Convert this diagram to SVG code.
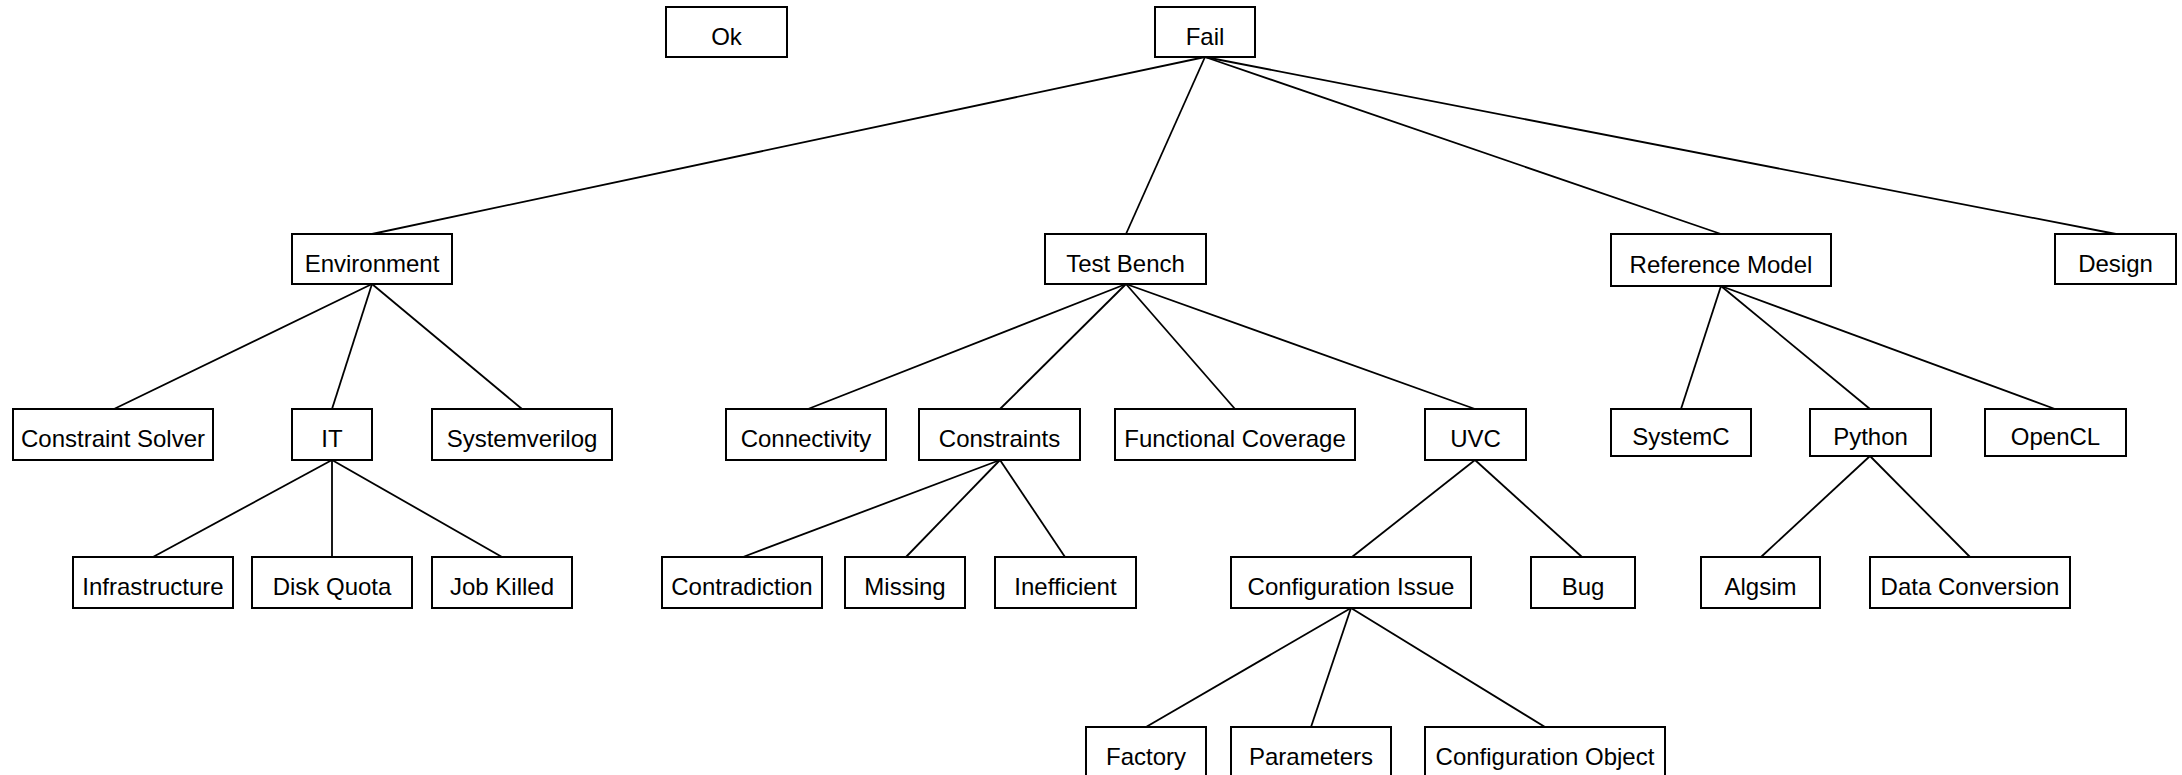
<svg xmlns="http://www.w3.org/2000/svg" width="2182" height="775" viewBox="0 0 2182 775">
<style>
rect{fill:#fff;stroke:#000;stroke-width:2}
text{font-family:"Liberation Sans",Arial,sans-serif;font-size:24px;fill:#000;text-anchor:middle}
#connectors line{stroke:#000;stroke-width:1.8}
</style>
<rect x="0" y="0" width="2182" height="775" style="stroke:none"/>
<g id="connectors">
<line x1="1205" y1="57" x2="372" y2="234"/>
<line x1="1205" y1="57" x2="1126" y2="234"/>
<line x1="1205" y1="57" x2="1721" y2="234"/>
<line x1="1205" y1="57" x2="2116" y2="234"/>
<line x1="372" y1="284" x2="114" y2="409"/>
<line x1="372" y1="284" x2="332" y2="409"/>
<line x1="372" y1="284" x2="522" y2="409"/>
<line x1="332" y1="460" x2="153" y2="557"/>
<line x1="332" y1="460" x2="332" y2="557"/>
<line x1="332" y1="460" x2="502" y2="557"/>
<line x1="1126" y1="284" x2="808" y2="409"/>
<line x1="1126" y1="284" x2="1000" y2="409"/>
<line x1="1126" y1="284" x2="1235" y2="409"/>
<line x1="1126" y1="284" x2="1475" y2="409"/>
<line x1="1000" y1="460" x2="743" y2="557"/>
<line x1="1000" y1="460" x2="906" y2="557"/>
<line x1="1000" y1="460" x2="1065" y2="557"/>
<line x1="1475" y1="460" x2="1352" y2="557"/>
<line x1="1475" y1="460" x2="1582" y2="557"/>
<line x1="1721" y1="286" x2="1681" y2="409"/>
<line x1="1721" y1="286" x2="1870" y2="409"/>
<line x1="1721" y1="286" x2="2055" y2="409"/>
<line x1="1870" y1="456" x2="1761" y2="557"/>
<line x1="1870" y1="456" x2="1970" y2="557"/>
<line x1="1351" y1="608" x2="1146" y2="727"/>
<line x1="1351" y1="608" x2="1311" y2="727"/>
<line x1="1351" y1="608" x2="1545" y2="727"/>
</g>
<g id="ok"><rect x="666" y="7" width="121" height="50"/><text x="726.5" y="45">Ok</text></g>
<g id="fail"><rect x="1155" y="7" width="100" height="50"/><text x="1205" y="45">Fail</text></g>
<g id="environment"><rect x="292" y="234" width="160" height="50"/><text x="372" y="272">Environment</text></g>
<g id="testbench"><rect x="1045" y="234" width="161" height="50"/><text x="1125.5" y="272">Test Bench</text></g>
<g id="referencemodel"><rect x="1611" y="234" width="220" height="52"/><text x="1721" y="273">Reference Model</text></g>
<g id="design"><rect x="2055" y="234" width="121" height="50"/><text x="2115.5" y="272">Design</text></g>
<g id="constraintsolver"><rect x="13" y="409" width="200" height="51"/><text x="113" y="447">Constraint Solver</text></g>
<g id="it"><rect x="292" y="409" width="80" height="51"/><text x="332" y="447">IT</text></g>
<g id="systemverilog"><rect x="432" y="409" width="180" height="51"/><text x="522" y="447">Systemverilog</text></g>
<g id="connectivity"><rect x="726" y="409" width="160" height="51"/><text x="806" y="447">Connectivity</text></g>
<g id="constraints"><rect x="919" y="409" width="161" height="51"/><text x="999.5" y="447">Constraints</text></g>
<g id="functionalcoverage"><rect x="1115" y="409" width="240" height="51"/><text x="1235" y="447">Functional Coverage</text></g>
<g id="uvc"><rect x="1425" y="409" width="101" height="51"/><text x="1475.5" y="447">UVC</text></g>
<g id="systemc"><rect x="1611" y="409" width="140" height="47"/><text x="1681" y="445">SystemC</text></g>
<g id="python"><rect x="1810" y="409" width="121" height="47"/><text x="1870.5" y="445">Python</text></g>
<g id="opencl"><rect x="1985" y="409" width="141" height="47"/><text x="2055.5" y="445">OpenCL</text></g>
<g id="infrastructure"><rect x="73" y="557" width="160" height="51"/><text x="153" y="595">Infrastructure</text></g>
<g id="diskquota"><rect x="252" y="557" width="160" height="51"/><text x="332" y="595">Disk Quota</text></g>
<g id="jobkilled"><rect x="432" y="557" width="140" height="51"/><text x="502" y="595">Job Killed</text></g>
<g id="contradiction"><rect x="662" y="557" width="160" height="51"/><text x="742" y="595">Contradiction</text></g>
<g id="missing"><rect x="845" y="557" width="120" height="51"/><text x="905" y="595">Missing</text></g>
<g id="inefficient"><rect x="995" y="557" width="141" height="51"/><text x="1065.5" y="595">Inefficient</text></g>
<g id="configurationissue"><rect x="1231" y="557" width="240" height="51"/><text x="1351" y="595">Configuration Issue</text></g>
<g id="bug"><rect x="1531" y="557" width="104" height="51"/><text x="1583" y="595">Bug</text></g>
<g id="algsim"><rect x="1701" y="557" width="119" height="51"/><text x="1760.5" y="595">Algsim</text></g>
<g id="dataconversion"><rect x="1870" y="557" width="200" height="51"/><text x="1970" y="595">Data Conversion</text></g>
<g id="factory"><rect x="1086" y="727" width="120" height="51"/><text x="1146" y="765">Factory</text></g>
<g id="parameters"><rect x="1231" y="727" width="160" height="51"/><text x="1311" y="765">Parameters</text></g>
<g id="configurationobject"><rect x="1425" y="727" width="240" height="51"/><text x="1545" y="765">Configuration Object</text></g>
</svg>
